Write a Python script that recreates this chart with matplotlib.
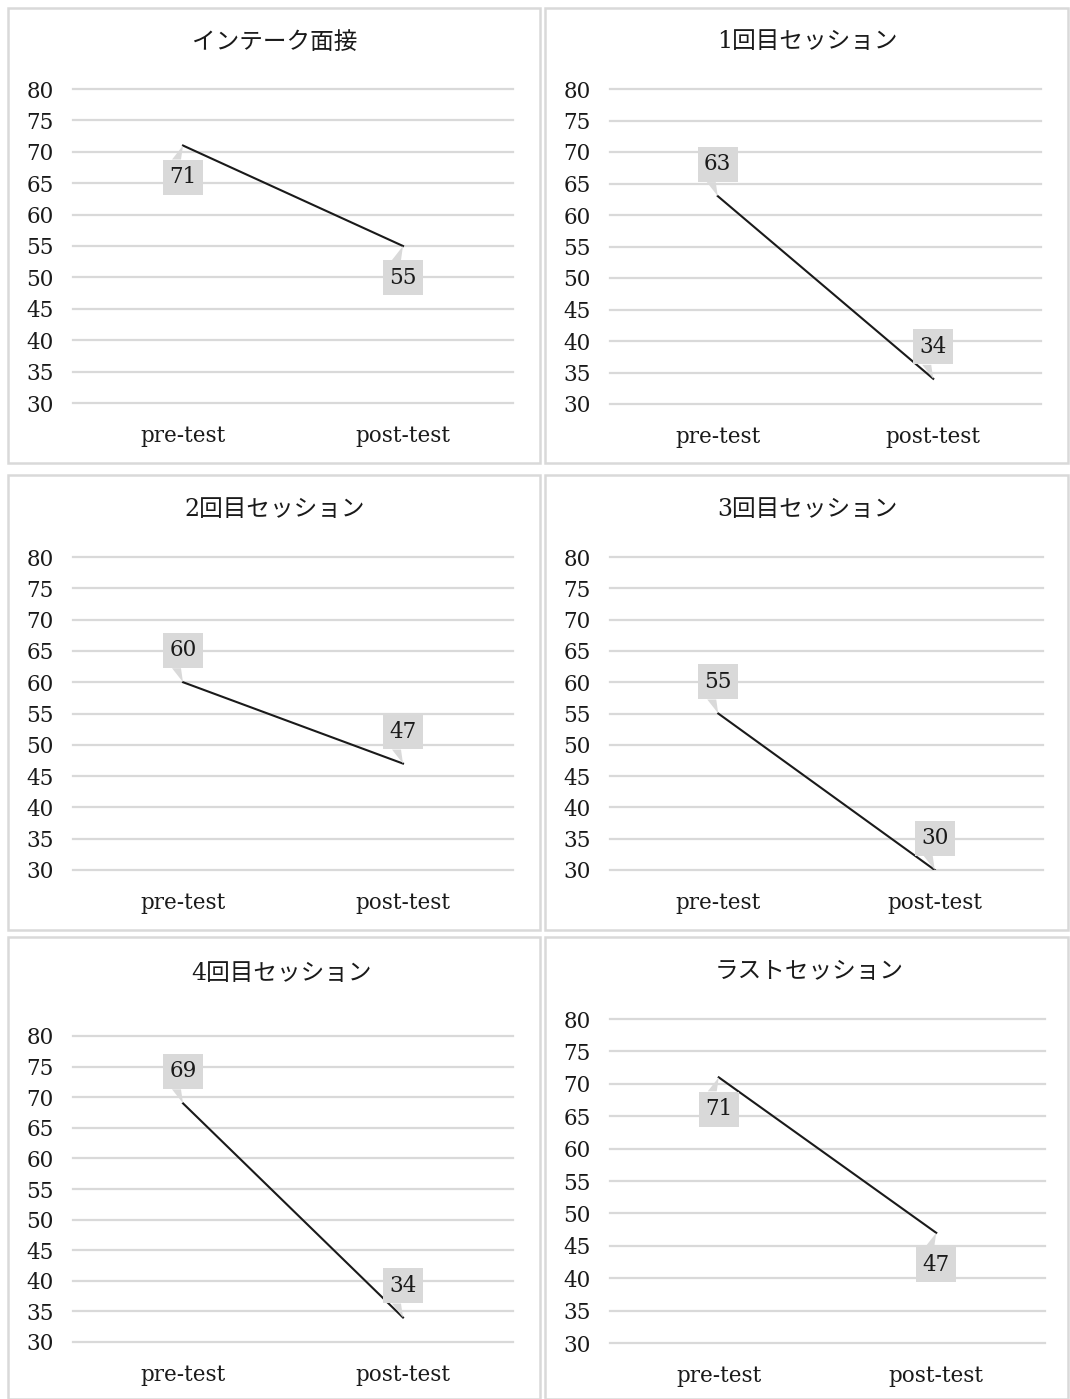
import matplotlib.pyplot as plt
import matplotlib.transforms as mtransforms
from matplotlib.patches import Rectangle, Polygon

# data
titles = ["インテーク面接", "1回目セッション", "2回目セッション",
          "3回目セッション", "4回目セッション", "ラストセッション"]
categories = ["pre-test", "post-test"]
pre_scores = [71, 63, 60, 55, 69, 71]
post_scores = [55, 34, 47, 30, 34, 47]
label_side = ["below", "above", "above", "above", "above", "below"]
yticks = [30, 35, 40, 45, 50, 55, 60, 65, 70, 75, 80]

W, H = 1070, 1399
plt.rcParams['font.family'] = ["DejaVu Serif", "Noto Sans CJK JP"]
ink = "#1a1a1a"
grid_c = "#d9d9d9"

fig = plt.figure(figsize=(W / 100, H / 100), dpi=100)

# panel frames (pixels): x0, y0, x1, y1
frames = [(8, 8, 540, 463), (545, 8, 1068, 463),
          (8, 475, 540, 930), (545, 475, 1068, 930),
          (8, 937, 540, 1399), (545, 937, 1068, 1399)]
# axes boxes (pixels): left, right, top(y=80), bottom(y=30)
boxes = [(73, 513, 89, 403), (610, 1041, 89, 404),
         (73, 513, 557, 870), (610, 1043, 557, 870),
         (73, 513, 1036, 1342), (610, 1045, 1019, 1343)]
title_pos = [(275, 42), (807, 42), (275, 509), (807, 509), (281, 973), (809, 971)]

for fx0, fy0, fx1, fy1 in frames:
    fig.patches.append(Rectangle((fx0 / W, 1 - fy1 / H), (fx1 - fx0) / W, (fy1 - fy0) / H,
                                 transform=fig.transFigure, fill=False,
                                 ec=grid_c, lw=1.8))

px = mtransforms.Affine2D().scale(fig.dpi / 100)

for k in range(6):
    l, r, t, b = boxes[k]
    ax = fig.add_axes([l / W, 1 - b / H, (r - l) / W, (b - t) / H])
    ax.set_xlim(-0.5, 1.5)
    ax.set_ylim(30, 80)
    ax.set_yticks(yticks)
    ax.set_xticks([0, 1])
    ax.set_xticklabels(categories)
    for s in ax.spines.values():
        s.set_visible(False)
    ax.tick_params(length=0, labelsize=15.5, colors=ink)
    ax.tick_params(axis='y', pad=14)
    ax.tick_params(axis='x', pad=16)
    ax.grid(axis='y', color=grid_c, lw=1.6)
    for gl in ax.get_ygridlines():
        gl.set_clip_on(False)
    ax.set_axisbelow(True)

    vals = [pre_scores[k], post_scores[k]]
    ax.plot([0, 1], vals, color=ink, lw=1.5, zorder=3)

    sgn = -1 if label_side[k] == "below" else 1
    for i, v in enumerate(vals):
        # callout pointer (pixel units relative to the point)
        tr = px + mtransforms.ScaledTranslation(i, v, ax.transData)
        ax.add_patch(Polygon([(0, 0), (-11, 14 * sgn), (-2, 14 * sgn)], closed=True,
                             transform=tr, fc=grid_c, ec='none', zorder=4,
                             clip_on=False))
        ax.annotate(str(v), xy=(i, v), xytext=(0, 23 * sgn), textcoords='offset points',
                    ha='center', va='center', fontsize=15.5, color=ink, zorder=5,
                    bbox=dict(boxstyle='square,pad=0.3', fc=grid_c, ec='none'))

    tx, ty = title_pos[k]
    fig.text(tx / W, 1 - ty / H, titles[k], ha='center', va='center',
             fontsize=17, color=ink)

fig.savefig("out.png", dpi=100)
